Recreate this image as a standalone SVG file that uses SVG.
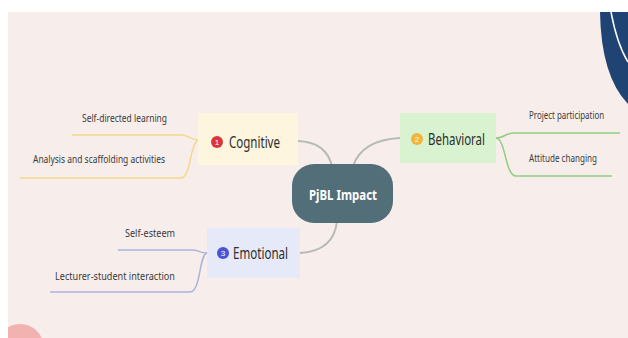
<svg xmlns="http://www.w3.org/2000/svg" width="628" height="338" viewBox="0 0 628 338">
<defs>
<style>
.lbl{font-family:"Noto Sans","Liberation Sans",sans-serif;fill:#3a3a3a;font-size:11px}
.nl{font-family:"Noto Sans","Liberation Sans",sans-serif;fill:#2e2e2e;font-size:16px}
.num{font-family:"Liberation Sans",sans-serif;fill:#fff;font-size:8px;text-anchor:middle}
.main{stroke:#b8b8b8;stroke-width:2;fill:none}
</style>
<clipPath id="bg"><rect x="8" y="12" width="620" height="326"/></clipPath>
</defs>
<rect width="628" height="338" fill="#ffffff"/>
<rect x="8" y="12" width="620" height="326" fill="#f7eeeb"/>
<g clip-path="url(#bg)">
<path d="M600,12 Q601,76 628,104 L628,12 Z" fill="#1f4473"/>
<path d="M611,12 Q617,44 628,62" stroke="#ffffff" stroke-width="1.5" fill="none"/>
<circle cx="20" cy="348" r="24" fill="#f2b3b0"/>
</g>
<g id="connectors">
<path class="main" d="M298,141 Q326,142 332,166"/>
<path class="main" d="M353,166 Q362,140 400,138"/>
<path class="main" d="M337,221 Q334,251 300,253"/>
<g stroke="#f2d98c" stroke-width="1.5" fill="none">
<path d="M199,140 C190,140 189,135 181,135 L72,135"/>
<path d="M199,140 C190,141 191,178 181,178 L20,178"/>
</g>
<g stroke="#8fcf82" stroke-width="1.5" fill="none">
<path d="M496,138 C505,138 505,133 514,133 L620,133"/>
<path d="M496,138 C506,139 505,176 516,176 L612,176"/>
</g>
<g stroke="#aab4de" stroke-width="1.5" fill="none">
<path d="M207,253 C199,253 199,250 192,250 L118,250"/>
<path d="M207,253 C199,254 201,292 190,292 L50,292"/>
</g>
</g>
<g id="center">
<rect x="292" y="164" width="101" height="59" rx="22" fill="#526e78"/>
<text x="343" y="200" font-family="Noto Sans,Liberation Sans,sans-serif" font-size="15" font-weight="bold" fill="#ffffff" text-anchor="middle" textLength="68" lengthAdjust="spacingAndGlyphs">PjBL Impact</text>
</g>
<g id="cognitive">
<rect x="198" y="113" width="100" height="52" fill="#fdf5dd"/>
<circle cx="217" cy="142" r="6" fill="#d9363e"/>
<text class="num" x="217" y="145">1</text>
<text class="nl" x="229" y="148" textLength="51" lengthAdjust="spacingAndGlyphs">Cognitive</text>
</g>
<g id="behavioral">
<rect x="400" y="113" width="96" height="50" fill="#d9f2cf"/>
<circle cx="417" cy="139" r="6" fill="#f2b43a"/>
<text class="num" x="417" y="142">2</text>
<text class="nl" x="428" y="145" textLength="57" lengthAdjust="spacingAndGlyphs">Behavioral</text>
</g>
<g id="emotional">
<rect x="207" y="228" width="93" height="50" fill="#e6e9f7"/>
<circle cx="223" cy="253" r="6" fill="#4a55d6"/>
<text class="num" x="223" y="256">3</text>
<text class="nl" x="233" y="259" textLength="55" lengthAdjust="spacingAndGlyphs">Emotional</text>
</g>
<g id="self-directed"><text class="lbl" x="82" y="122" textLength="85" lengthAdjust="spacingAndGlyphs">Self-directed learning</text></g>
<g id="analysis"><text class="lbl" x="33" y="163" textLength="132" lengthAdjust="spacingAndGlyphs">Analysis and scaffolding activities</text></g>
<g id="project"><text class="lbl" transform="translate(529,119) scale(0.72,1)" x="0" y="0">Project participation</text></g>
<g id="attitude"><text class="lbl" x="529" y="162" textLength="68" lengthAdjust="spacingAndGlyphs">Attitude changing</text></g>
<g id="self-esteem"><text class="lbl" x="125" y="237" textLength="50" lengthAdjust="spacingAndGlyphs">Self-esteem</text></g>
<g id="lecturer"><text class="lbl" x="55" y="280" textLength="120" lengthAdjust="spacingAndGlyphs">Lecturer-student interaction</text></g>
</svg>
